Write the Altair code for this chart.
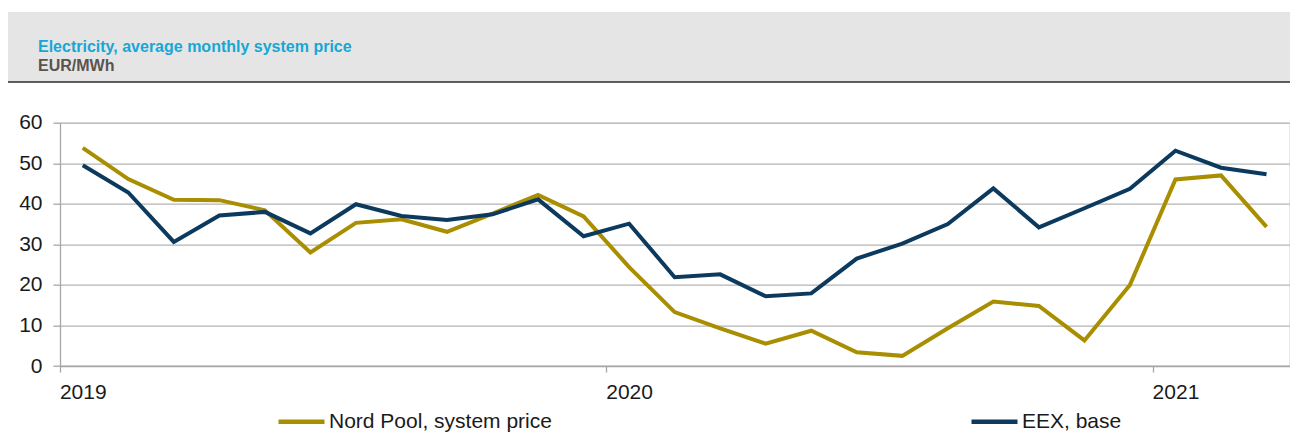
import altair as alt
import pandas as pd

months = ["2019-01","2019-02","2019-03","2019-04","2019-05","2019-06","2019-07","2019-08","2019-09",
          "2019-10","2019-11","2019-12","2020-01","2020-02","2020-03","2020-04","2020-05","2020-06",
          "2020-07","2020-08","2020-09","2020-10","2020-11","2020-12","2021-01","2021-02","2021-03"]
nord_pool = [53.8, 46.1, 41.0, 40.9, 38.4, 28.0, 35.3, 36.2, 33.1, 37.6, 42.2, 36.9, 24.4, 13.3,
             9.3, 5.5, 8.7, 3.4, 2.5, 9.3, 15.9, 14.8, 6.3, 20.0, 46.0, 47.0, 34.3]
eex = [49.5, 42.8, 30.6, 37.1, 38.0, 32.7, 39.9, 37.0, 36.0, 37.4, 41.1, 32.0, 35.1, 21.9,
       22.6, 17.2, 17.9, 26.5, 30.2, 35.0, 43.8, 34.2, 38.9, 43.7, 53.1, 48.9, 47.3]
series_names = ["Nord Pool, system price", "EEX, base"]
series_colors = ["#a88e00", "#0c3a5e"]
year_starts = ["2019-01", "2020-01", "2021-01"]
y_ticks = [0, 10, 20, 30, 40, 50, 60]
title_text = "Electricity, average monthly system price"
unit_text = "EUR/MWh"

rows = []
for m, a, b in zip(months, nord_pool, eex):
    rows.append({"month": m, "series": series_names[0], "value": a})
    rows.append({"month": m, "series": series_names[1], "value": b})
df = pd.DataFrame(rows)

W = 1229.3
H = 243.3
step = W / len(months)
FONT = "Liberation Sans"

lines = alt.Chart(df).mark_line(strokeWidth=4, strokeJoin="miter").encode(
    x=alt.X("month:O", sort=months,
            scale=alt.Scale(type="point", padding=0.5),
            axis=alt.Axis(values=year_starts, labelExpr="substring(datum.value, 0, 4)",
                          tickOffset=-step / 2, labelOffset=step / 2, labelAngle=0,
                          tickSize=6, tickColor="#a6a6a6", tickWidth=1.3,
                          domainColor="#a6a6a6", domainWidth=1.5,
                          labelPadding=9, labelFontSize=21, labelColor="#1a1a1a",
                          labelFont=FONT, grid=False, title=None)),
    y=alt.Y("value:Q", scale=alt.Scale(domain=[0, 60], nice=False),
            axis=alt.Axis(values=y_ticks, grid=True, gridColor="#b3b3b3", gridWidth=1.3,
                          tickSize=7, tickColor="#a6a6a6", tickWidth=1.3,
                          domainColor="#a6a6a6", domainWidth=1.3,
                          labelPadding=11, labelFontSize=21, labelColor="#1a1a1a",
                          labelFont=FONT, title=None)),
    color=alt.Color("series:N", sort=series_names,
                    scale=alt.Scale(domain=series_names, range=series_colors),
                    legend=alt.Legend(orient="none", legendX=216, legendY=273.3,
                                      direction="horizontal", title=None,
                                      symbolType="stroke", symbolStrokeWidth=4.5,
                                      symbolSize=2116, labelOffset=2,
                                      labelFontSize=21, labelFont=FONT,
                                      labelColor="#1a1a1a", columnPadding=410,
                                      padding=0, labelLimit=400)),
    order=alt.Order("series:N", sort="descending"),
)

hdr = pd.DataFrame({"title": [title_text], "unit": [unit_text]})

band = alt.Chart(hdr).mark_rect(color="#e5e5e5").encode(
    x=alt.value(-52), x2=alt.value(1238),
    y=alt.value(-110.7), y2=alt.value(-40.7))
band_line = alt.Chart(hdr).mark_rule(color="#2b2b2b", strokeWidth=1.5).encode(
    x=alt.value(-52), x2=alt.value(1238), y=alt.value(-40.7))
title_mark = alt.Chart(hdr).mark_text(align="left", baseline="alphabetic", fontSize=16,
                                      fontWeight="bold", font=FONT, color="#17a7d6").encode(
    x=alt.value(-22), y=alt.value(-70.4), text="title:N")
unit_mark = alt.Chart(hdr).mark_text(align="left", baseline="alphabetic", fontSize=16,
                                     fontWeight="bold", font=FONT, color="#5a534e").encode(
    x=alt.value(-22), y=alt.value(-52), text="unit:N")

chart = alt.layer(band, band_line, title_mark, unit_mark, lines).properties(
    width=W, height=H,
    autosize=alt.AutoSizeParams(type="none"),
    padding={"left": 52, "top": 114.7, "right": 0.7, "bottom": 75},
).configure_view(stroke=None).configure(font=FONT)

chart.save("out.html", embed_options={"renderer": "svg", "actions": False})
